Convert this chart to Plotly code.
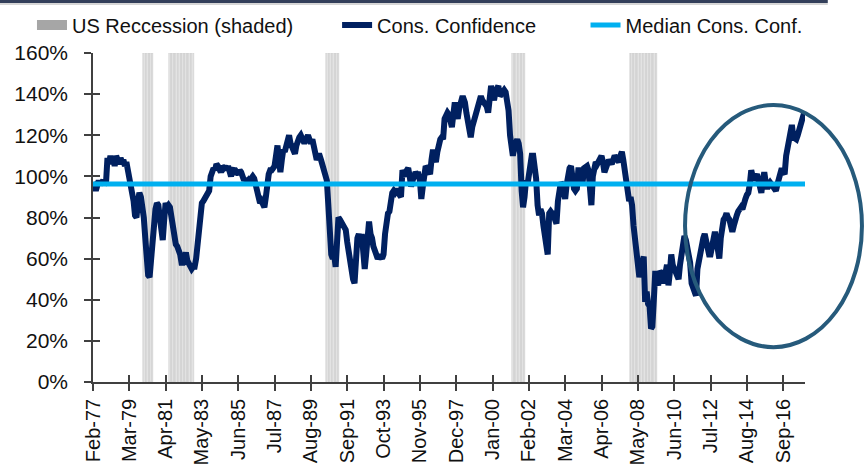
import plotly.graph_objects as go
import pandas as pd

# ---------------- data ----------------
first_month = "1977-02"

# Consumer confidence, monthly, in %, Feb-77 .. Dec-17
cons_conf = [
    97, 96, 93, 97, 98, 96, 98, 98, 96, 97, 109,                      # 1977 (Feb-Dec)
    106, 110, 107, 109, 105, 110, 108, 106, 109, 107, 108, 105,       # 1978
    107, 103, 100, 99, 93, 88, 81, 80, 88, 92, 90, 86,                # 1979
    80, 70, 60, 52, 51, 60, 72, 78, 84, 87, 86, 80,                   # 1980
    74, 69, 78, 87, 85, 86, 85, 80, 76, 72, 67, 66,                   # 1981
    64, 62, 58, 58, 60, 63, 59, 57, 57, 55, 56, 56,                   # 1982
    60, 69, 78, 84, 87, 88, 89, 90, 92, 93, 100, 103,                 # 1983
    104, 103, 106, 105, 103, 102, 105, 104, 105, 103, 105, 102,       # 1984
    100, 103, 104, 101, 102, 101, 103, 102, 99, 98, 99, 97,           # 1985
    98, 97, 99, 100, 99, 96, 94, 90, 87, 88, 86, 85,                  # 1986
    90, 97, 101, 103, 103, 104, 105, 110, 115, 108, 102, 108,         # 1987
    113, 112, 115, 117, 120, 116, 114, 112, 111, 115, 118, 119,       # 1988
    120, 118, 117, 117, 119, 120, 118, 116, 118, 115, 111, 108,       # 1989
    110, 110, 108, 106, 104, 100, 98, 86, 70, 62, 60, 62,             # 1990
    56, 66, 80, 79, 78, 77, 76, 74, 68, 62, 58, 52,                   # 1991
    50, 48, 60, 70, 72, 68, 72, 60, 55, 62, 72, 78,                   # 1992
    72, 70, 66, 64, 62, 60, 61, 61, 60, 62, 72, 80,                   # 1993
    82, 83, 88, 92, 93, 92, 93, 93, 91, 90, 103, 101,                 # 1994
    100, 103, 104, 100, 95, 98, 102, 102, 101, 101, 98, 89,           # 1995
    95, 99, 105, 104, 101, 101, 108, 113, 109, 107, 112, 118,         # 1996
    118, 119, 118, 128, 130, 131, 130, 127, 124, 130, 136, 131,       # 1997
    128, 133, 137, 138, 138, 136, 131, 126, 121, 119, 124, 127,       # 1998
    129, 131, 134, 136, 139, 137, 136, 136, 134, 131, 138, 144,       # 1999
    140, 137, 141, 144, 144, 139, 140, 142, 142, 141, 136, 132,       # 2000
    120, 111, 110, 114, 116, 118, 116, 111, 93, 85, 90, 98,           # 2001
    96, 102, 109, 110, 110, 105, 99, 86, 81, 84, 82, 76,              # 2002
    70, 64, 62, 82, 83, 82, 82, 79, 77, 88, 95, 97,                   # 2003
    96, 92, 89, 96, 102, 104, 105, 96, 94, 93, 94, 103,               # 2004
    103, 99, 97, 104, 105, 105, 103, 95, 86, 100, 106, 107,           # 2005
    106, 108, 108, 110, 107, 102, 104, 108, 108, 107, 106, 108,       # 2006
    110, 109, 108, 107, 110, 112, 108, 103, 97, 90, 88, 90,           # 2007
    86, 76, 70, 63, 58, 51, 55, 60, 61, 39, 44, 38,                   # 2008
    37, 26, 27, 40, 54, 49, 47, 54, 53, 48, 50, 53,                   # 2009
    57, 47, 53, 62, 57, 55, 53, 50, 50, 57, 62, 66,                   # 2010
    71, 69, 66, 62, 58, 48, 45, 44, 42, 55, 60, 65,                   # 2011
    67, 70, 72, 68, 65, 62, 62, 66, 72, 73, 69, 64,                   # 2012
    60, 70, 77, 79, 80, 82, 80, 79, 76, 73, 76, 80,                   # 2013
    81, 83, 84, 85, 84, 88, 89, 91, 92, 96, 103, 100,                 # 2014
    98, 100, 101, 98, 95, 92, 98, 102, 97, 94, 96, 97,                # 2015
    96, 95, 95, 93, 96, 99, 102, 104, 102, 101, 110, 114,             # 2016
    116, 124, 125, 119, 118, 118, 120, 123, 125, 128, 130, 130,       # 2017
]

median_conf = 96.3  # %

recession_starts = ["1980-01", "1981-07", "1990-07", "2001-03", "2007-12"]
recession_ends = ["1980-07", "1982-11", "1991-03", "2001-11", "2009-06"]
recession_height = 1.6

tick_labels = ["Feb-77", "Mar-79", "Apr-81", "May-83", "Jun-85", "Jul-87", "Aug-89",
               "Sep-91", "Oct-93", "Nov-95", "Dec-97", "Jan-00", "Feb-02", "Mar-04",
               "Apr-06", "May-08", "Jun-10", "Jul-12", "Aug-14", "Sep-16"]
y_ticks = [0, 0.2, 0.4, 0.6, 0.8, 1.0, 1.2, 1.4, 1.6]

# ---------------- derived ----------------
dates = pd.date_range(first_month + "-01", periods=len(cons_conf), freq="MS")
conf_frac = [v / 100 for v in cons_conf]
median_frac = [median_conf / 100] * len(dates)

rec_months = []
for s, e in zip(recession_starts, recession_ends):
    rec_months += list(pd.date_range(s + "-01", e + "-01", freq="MS"))

tickvals = [pd.to_datetime(t, format="%b-%y") for t in tick_labels]
x_range = [dates[0], dates[-1]]

FONT = "Liberation Sans, Arial, sans-serif"
AXIS_COL = "#404040"
PAD1 = "\u00a0" * 7  # extra spacing between legend entries
PAD2 = "\u00a0" * 8

fig = go.Figure()

fig.add_trace(go.Bar(
    x=rec_months, y=[recession_height] * len(rec_months),
    width=27 * 86400000,
    marker=dict(color="#e6e6e6", line=dict(color="#c6c6c6", width=0.5)),
    showlegend=False, hoverinfo="skip",
))
# legend entry for recession shading (grey block)
fig.add_trace(go.Scatter(x=[None], y=[None], mode="lines", name="US Reccession (shaded)" + PAD1,
                         line=dict(color="#a6a6a6", width=15)))
fig.add_trace(go.Scatter(x=dates, y=conf_frac, mode="lines", name="Cons. Confidence" + PAD2,
                         line=dict(color="#002060", width=6)))
fig.add_trace(go.Scatter(x=dates, y=median_frac, mode="lines", name="Median Cons. Conf.",
                         line=dict(color="#00b0f0", width=5)))
# helper trace for the inner tick overlay axes
fig.add_trace(go.Scatter(x=[dates[0]], y=[0], xaxis="x2", yaxis="y2", mode="markers",
                         marker=dict(opacity=0), showlegend=False, hoverinfo="skip"))

fig.update_layout(
    width=868, height=468,
    margin=dict(l=93, r=63, t=53, b=86, autoexpand=False),
    plot_bgcolor="white", paper_bgcolor="white",
    bargap=0,
    font=dict(family=FONT, size=20, color="#111111"),
    showlegend=True,
    legend=dict(orientation="h", x=-0.0857, xanchor="left", y=1.085, yanchor="middle",
                font=dict(size=20, color="#111111"), bgcolor="rgba(0,0,0,0)",
                itemwidth=30, traceorder="normal"),
    xaxis=dict(type="date", range=x_range, tickmode="array", tickvals=tickvals,
               ticktext=tick_labels, tickangle=-90, ticks="outside", ticklen=7,
               tickwidth=1.5, tickcolor=AXIS_COL, showline=True, linecolor=AXIS_COL,
               linewidth=1.5, showgrid=False, zeroline=False,
               tickfont=dict(size=20, family=FONT, color="#111111")),
    yaxis=dict(range=[0, 1.6], tickmode="array", tickvals=y_ticks, tickformat=".0%",
               ticks="outside", ticklen=7, tickwidth=1.5, tickcolor=AXIS_COL,
               showline=True, linecolor=AXIS_COL, linewidth=1.5, showgrid=False,
               zeroline=False, ticklabelstandoff=12,
               tickfont=dict(size=21, family=FONT, color="#111111")),
    xaxis2=dict(type="date", overlaying="x", anchor="y2", range=x_range,
                tickmode="array", tickvals=tickvals, ticks="inside", ticklen=7,
                tickwidth=1.5, tickcolor=AXIS_COL, showticklabels=False,
                showgrid=False, zeroline=False, showline=False, side="bottom"),
    yaxis2=dict(overlaying="y", anchor="x2", range=[0, 1.6], tickmode="array",
                tickvals=y_ticks, ticks="inside", ticklen=7, tickwidth=1.5,
                tickcolor=AXIS_COL, showticklabels=False, showgrid=False,
                zeroline=False, showline=False, side="left"),
)

# top border line and highlight ellipse
fig.add_shape(type="line", xref="paper", yref="paper", x0=-0.131, x1=1.032,
              y0=1.1565, y1=1.1565, line=dict(color="#333f5a", width=3))
fig.add_shape(type="line", xref="paper", yref="paper", x0=-0.131, x1=1.032,
              y0=1.149, y1=1.149, line=dict(color="#c8c8c8", width=1.5))
fig.add_shape(type="circle", xref="paper", yref="paper", x0=0.8315, x1=1.080,
              y0=0.106, y1=0.842, line=dict(color="#265a7b", width=4),
              fillcolor="rgba(0,0,0,0)", layer="above")

fig.write_html("out.html", config={"displayModeBar": False},
               post_script="document.body.style.margin='0';")
